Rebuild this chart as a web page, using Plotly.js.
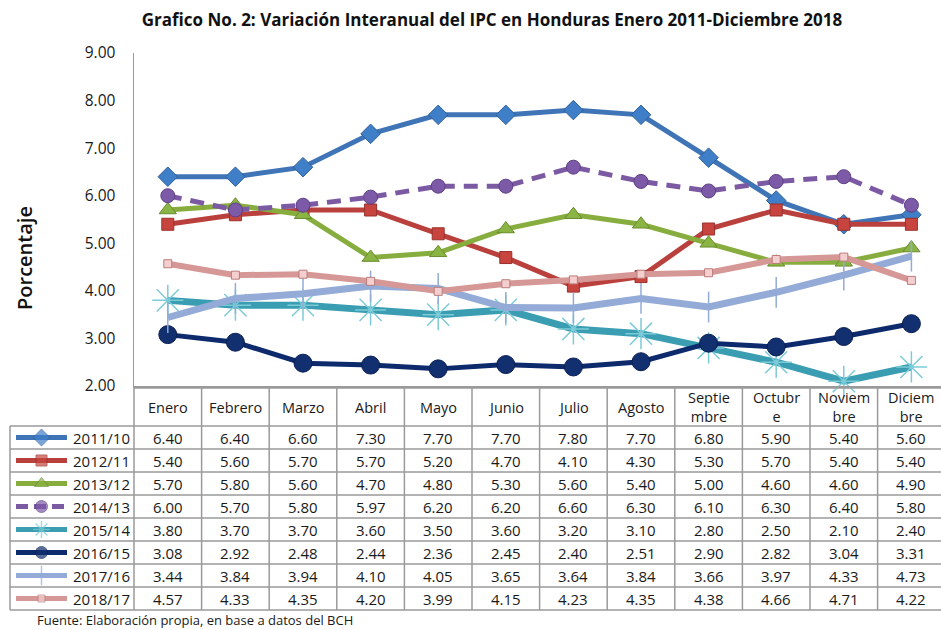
<!DOCTYPE html>
<html>
<head>
<meta charset="utf-8">
<script src="https://cdn.plot.ly/plotly-3.0.1.min.js"></script>
<style>body{margin:0;padding:0;background:#fff;}#chart{width:941px;height:630px;}</style>
</head>
<body>
<div id="chart"></div>
<script>
const months = ['Enero','Febrero','Marzo','Abril','Mayo','Junio','Julio','Agosto','Septiembre','Octubre','Noviembre','Diciembre'];
const headerLabels = ['Enero','Febrero','Marzo','Abril','Mayo','Junio','Julio','Agosto','Septie<br>mbre','Octubr<br>e','Noviem<br>bre','Diciem<br>bre'];
const seriesNames = ['2011/10','2012/11','2013/12','2014/13','2015/14','2016/15','2017/16','2018/17'];
const s2011_10 = [6.40,6.40,6.60,7.30,7.70,7.70,7.80,7.70,6.80,5.90,5.40,5.60];
const s2012_11 = [5.40,5.60,5.70,5.70,5.20,4.70,4.10,4.30,5.30,5.70,5.40,5.40];
const s2013_12 = [5.70,5.80,5.60,4.70,4.80,5.30,5.60,5.40,5.00,4.60,4.60,4.90];
const s2014_13 = [6.00,5.70,5.80,5.97,6.20,6.20,6.60,6.30,6.10,6.30,6.40,5.80];
const s2015_14 = [3.80,3.70,3.70,3.60,3.50,3.60,3.20,3.10,2.80,2.50,2.10,2.40];
const s2016_15 = [3.08,2.92,2.48,2.44,2.36,2.45,2.40,2.51,2.90,2.82,3.04,3.31];
const s2017_16 = [3.44,3.84,3.94,4.10,4.05,3.65,3.64,3.84,3.66,3.97,4.33,4.73];
const s2018_17 = [4.57,4.33,4.35,4.20,3.99,4.15,4.23,4.35,4.38,4.66,4.71,4.22];
const allSeries = [s2011_10,s2012_11,s2013_12,s2014_13,s2015_14,s2016_15,s2017_16,s2018_17];

const styles = [
  {color:'#3f74b6', width:5, dash:'solid', symbol:'diamond', size:15, ksize:13, mcolor:'#3f7fc8', mline:{color:'#2f5f9a',width:1}},
  {color:'#b9403c', width:5, dash:'solid', symbol:'square', size:12, ksize:11, mcolor:'#c8453f', mline:{color:'#9a302c',width:1}},
  {color:'#86ad3e', width:5, dash:'solid', symbol:'triangle-up', size:15, ksize:12, mcolor:'#8ab443', mline:{color:'#6a8c2e',width:1}},
  {color:'#7b5aa3', width:5, dash:'14px,9px', symbol:'circle', size:14, ksize:12, mcolor:'#7d5aa8', mline:{color:'#5e4184',width:1}},
  {color:'#3a9db1', width:7, dash:'solid', symbol:'asterisk-open', size:26, ksize:14, mcolor:'#7ccbd8', mline:{color:'#7ccbd8',width:1.5}},
  {color:'#0d2a6c', width:5, dash:'solid', symbol:'circle', size:18, ksize:12, mcolor:'#12306f', mline:{color:'#0a1f52',width:1}},
  {color:'#93abd6', width:7, dash:'solid', symbol:'line-ns-open', size:22, ksize:14, mcolor:'#93abd6', mline:{color:'#93abd6',width:1.5}},
  {color:'#d69896', width:6, dash:'solid', symbol:'square', size:8, ksize:7, mcolor:'#f5cfcf', mline:{color:'#b97d7b',width:1}}
];

const W = 941, H = 630;
const PX = v => v / W;
const PY = v => 1 - v / H;
const colW = 67.6;
const plotLeft = 134, plotTop = 53, plotBottom = 386;
const xMax = (W - plotLeft) / colW - 0.5;

const rowTops = [426,449,472,495,518,541,564,587,610];
const headerTop = 388;

const traces = [];
allSeries.forEach((vals, i) => {
  const st = styles[i];
  traces.push({
    type:'scatter', mode:'lines+markers', name:seriesNames[i],
    x: months, y: vals, xaxis:'x', yaxis:'y',
    line:{color:st.color, width:st.width, dash:st.dash},
    marker:{symbol:st.symbol, size:st.size, color:st.mcolor, line:st.mline},
    showlegend:false, hoverinfo:'skip', cliponaxis:false
  });
});
// legend keys inside table first column
allSeries.forEach((vals, i) => {
  const st = styles[i];
  const r = i + 0.5;
  traces.push({
    type:'scatter', mode:'lines+markers',
    x:[0,0.5,1], y:[r,r,r], xaxis:'x2', yaxis:'y2',
    line:{color:st.color, width:Math.min(st.width,5), dash: i===3 ? '12px,6px' : 'solid'},
    marker:{symbol:st.symbol, size:[0, st.ksize, 0], color:st.mcolor, line:st.mline},
    showlegend:false, hoverinfo:'skip', cliponaxis:false
  });
});

const shapes = [];
const lineStyle = {color:'#9a9a9a', width:1.5};
shapes.push({type:'line', xref:'paper', yref:'paper', x0:PX(plotLeft), x1:1, y0:PY(headerTop), y1:PY(headerTop), line:lineStyle});
rowTops.forEach(t => {
  shapes.push({type:'line', xref:'paper', yref:'paper', x0:PX(10), x1:1, y0:PY(t), y1:PY(t), line:lineStyle});
});
shapes.push({type:'line', xref:'paper', yref:'paper', x0:PX(10), x1:PX(10), y0:PY(rowTops[0]), y1:PY(rowTops[8]), line:lineStyle});
for (let k = 0; k <= 12; k++) {
  const xv = plotLeft + k * colW;
  if (xv > W) break;
  shapes.push({type:'line', xref:'paper', yref:'paper', x0:PX(xv), x1:PX(xv), y0:PY(headerTop), y1:PY(rowTops[8]), line:lineStyle});
}

const annotations = [];
const tFont = {family:'Open Sans, sans-serif', size:15, color:'#1a1a1a'};
headerLabels.forEach((lab, j) => {
  annotations.push({xref:'x', yref:'paper', x:j, y:PY((headerTop + rowTops[0]) / 2), text:lab, showarrow:false,
    xanchor:'center', yanchor:'middle', font:{family:'Open Sans, sans-serif', size:14.5, color:'#1a1a1a'}, align:'center'});
});
seriesNames.forEach((nm, i) => {
  const yc = PY((rowTops[i] + rowTops[i+1]) / 2);
  annotations.push({xref:'paper', yref:'paper', x:PX(132), y:yc, text:nm, showarrow:false, xanchor:'right', yanchor:'middle', font:tFont});
  allSeries[i].forEach((v, j) => {
    annotations.push({xref:'x', yref:'paper', x:j, y:yc, text:v.toFixed(2), showarrow:false, xanchor:'center', yanchor:'middle', font:tFont});
  });
});
annotations.push({xref:'paper', yref:'paper', x:PX(35), y:PY(620), text:'Fuente: Elaboración propia, en base a datos del BCH', showarrow:false,
  xanchor:'left', yanchor:'middle', font:{family:'Open Sans, sans-serif', size:13, color:'#1a1a1a'}});
annotations.push({xref:'paper', yref:'paper', x:PX(24), y:PY(258), text:'Porcentaje', showarrow:false, textangle:-90,
  xanchor:'center', yanchor:'middle', font:{family:'Open Sans, sans-serif', size:20, color:'#111', weight:600}});

const layout = {
  width:W, height:H,
  margin:{l:0, r:0, t:0, b:0},
  paper_bgcolor:'#fff', plot_bgcolor:'rgba(0,0,0,0)',
  title:{text:'Grafico No. 2: Variación Interanual del IPC en Honduras Enero 2011-Diciembre 2018',
    font:{family:'Open Sans, sans-serif', size:17, color:'#111', weight:'bold'},
    x:PX(492), xanchor:'center', xref:'paper', y:PY(20), yanchor:'middle', yref:'paper'},
  xaxis:{type:'category', categoryarray:months, categoryorder:'array', range:[-0.5, xMax],
    domain:[PX(plotLeft), 1], anchor:'y', showticklabels:false, ticks:'', showgrid:false, zeroline:false,
    showline:true, linecolor:'#9a9a9a', linewidth:1.5, fixedrange:true},
  yaxis:{range:[2,9], dtick:1, tick0:2, tickformat:'.2f', domain:[PY(plotBottom), PY(plotTop)], anchor:'x',
    showgrid:false, zeroline:false, showline:true, linecolor:'#9a9a9a', linewidth:1.5,
    ticks:'outside', ticklen:14, tickcolor:'rgba(0,0,0,0)',
    tickfont:{family:'Open Sans, sans-serif', size:15.5, color:'#1a1a1a'}, fixedrange:true},
  xaxis2:{domain:[PX(16), PX(67)], range:[0,1], anchor:'y2', visible:false, fixedrange:true},
  yaxis2:{domain:[PY(rowTops[8]), PY(rowTops[0])], range:[8,0], anchor:'x2', visible:false, fixedrange:true},
  shapes:shapes, annotations:annotations, showlegend:false
};

Plotly.newPlot('chart', traces, layout, {displayModeBar:false, staticPlot:true});
</script>
</body>
</html>
